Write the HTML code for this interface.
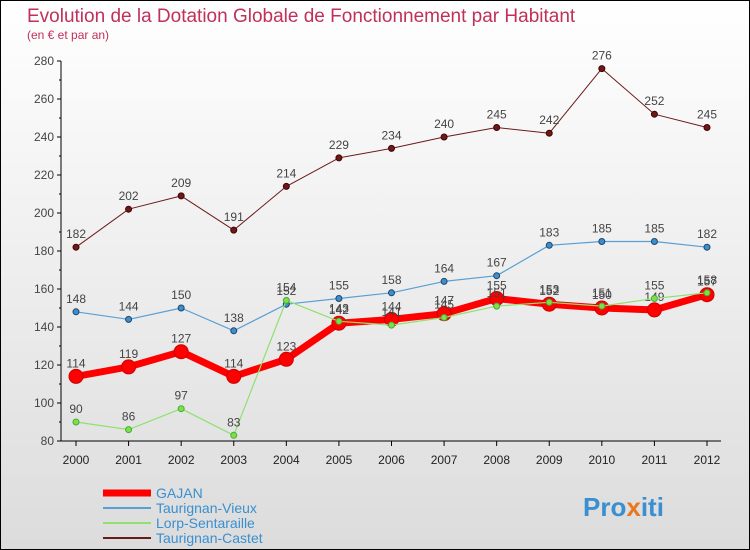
<!DOCTYPE html>
<html><head><meta charset="utf-8"><style>
body{margin:0}
#c{width:750px;height:550px;position:relative;box-sizing:border-box;border:1px solid #000;background:linear-gradient(#fff,#dcdcdc);font-family:"Liberation Sans",sans-serif;overflow:hidden}
</style></head><body>
<div id="c">
<svg id="s" width="748" height="548" style="position:absolute;left:0;top:0">
<text x="26" y="21" font-size="19" fill="#c0305a">Evolution de la Dotation Globale de Fonctionnement par Habitant</text>
<text x="26" y="38" font-size="12" fill="#c0305a">(en € et par an)</text>
<text x="582" y="515" font-size="26" font-weight="bold" fill="#3a8fd0">Pro<tspan fill="#e87820">x</tspan>iti</text>
</svg>
</div>
<script>
const years=[2000,2001,2002,2003,2004,2005,2006,2007,2008,2009,2010,2011,2012];
const yTicks=[80,100,120,140,160,180,200,220,240,260,280];
const castet=[182,202,209,191,214,229,234,240,245,242,276,252,245];
const vieux=[148,144,150,138,152,155,158,164,167,183,185,185,182];
const lorp=[90,86,97,83,154,143,141,145,151,153,151,155,158];
const gajan=[114,119,127,114,123,142,144,147,155,152,150,149,157];
const ns='http://www.w3.org/2000/svg';
const s=document.getElementById('s');
const X=i=>75+i*(706-75)/(years.length-1);
const Y=v=>440-(v-80)*1.9;
function mk(t,a,p){const e=document.createElementNS(ns,t);for(const k in a)e.setAttribute(k,a[k]);(p||s).appendChild(e);return e;}
const ax=mk('g',{});


mk('line',{x1:60,y1:60,x2:60,y2:440,stroke:'#000'},ax);
yTicks.forEach(v=>{mk('line',{x1:56,y1:Y(v),x2:60,y2:Y(v),stroke:'#000'},ax);
if(v<280)mk('line',{x1:58,y1:Y(v+10),x2:60,y2:Y(v+10),stroke:'#000'},ax);
const t=mk('text',{x:53,y:Y(v)+4,'font-size':12,fill:'#444','text-anchor':'end'},ax);t.textContent=v;

});
const xa=mk('g',{});


mk('line',{x1:60,y1:440,x2:720,y2:440,stroke:'#000'},xa);
years.forEach((y,i)=>{mk('line',{x1:X(i),y1:440,x2:X(i),y2:445,stroke:'#000'},xa);
const t=mk('text',{x:X(i),y:463,'font-size':12,fill:'#222','text-anchor':'middle'},xa);t.textContent=y;

});
function series(d,name,col,w,r,fill,stroke){
const g=mk('g',{});


mk('polyline',{points:d.map((v,i)=>X(i)+','+Y(v)).join(' '),fill:'none',stroke:col,'stroke-width':w,'stroke-linejoin':'round'},g);
d.forEach((v,i)=>{const c=mk('circle',{cx:X(i),cy:Y(v),r:r,fill:fill,stroke:stroke,'stroke-width':1},g);


const t=mk('text',{x:X(i),y:Y(v)-9,'font-size':12,fill:'#444','text-anchor':'middle'},g);t.textContent=v;});}
series(castet,'series-taurignan-castet','#6b1a1a',1,3,'#6b1a1a','#400');
series(vieux,'series-taurignan-vieux','#5a9fd4',1.2,3,'#3a8fd0','#246');
series(gajan,'series-gajan','#f00',7,7,'#f00','#c00');
series(lorp,'series-lorp-sentaraille','#90e070',1.2,3,'#80e040','#4a4');
const leg=[['GAJAN','#f00',7],['Taurignan-Vieux','#5a9fd4',2],['Lorp-Sentaraille','#90e070',2],['Taurignan-Castet','#6b1a1a',2]];
leg.forEach((l,i)=>{const g=mk('g',{});


const y=492+i*15;mk('line',{x1:102,y1:y,x2:150,y2:y,stroke:l[1],'stroke-width':l[2]},g);
const t=mk('text',{x:155,y:y+5,'font-size':14,fill:'#3a8fd0'},g);t.textContent=l[0];});
</script>
</body></html>
